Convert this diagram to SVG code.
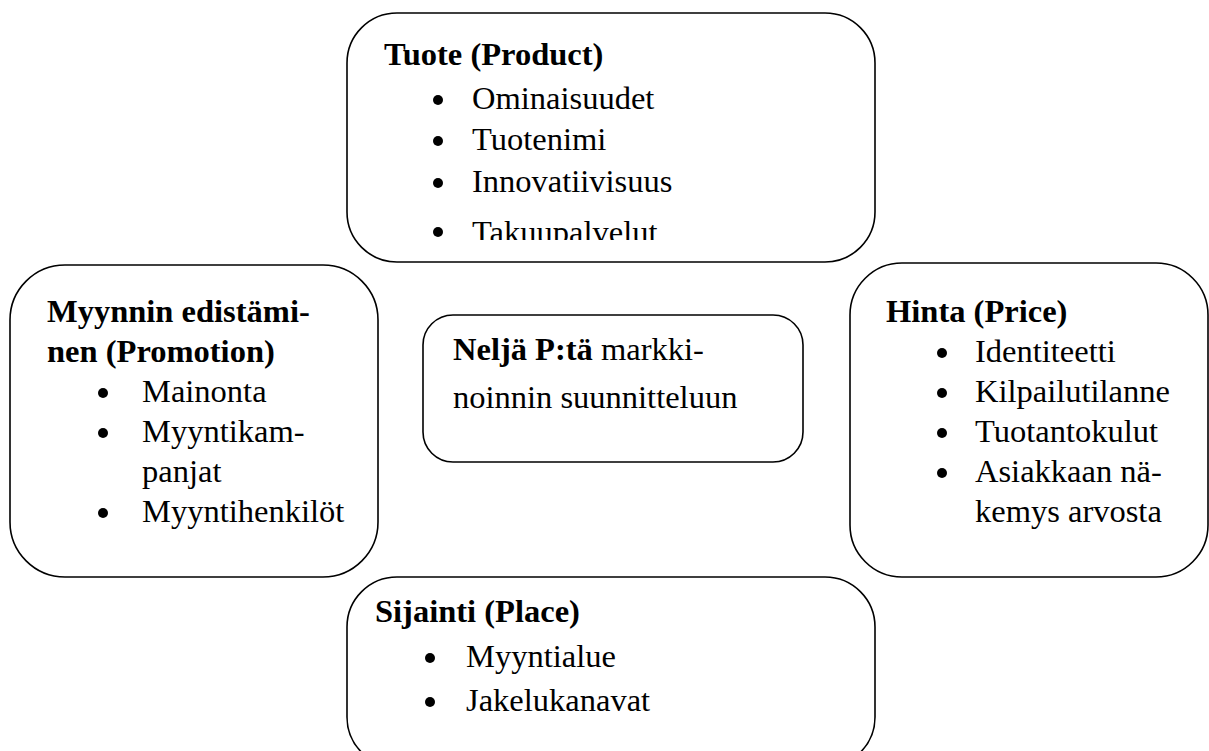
<svg xmlns="http://www.w3.org/2000/svg" width="1209" height="751" viewBox="0 0 1209 751">
<style>
.box{fill:#fff;stroke:#000;stroke-width:1.6}
.t{font-family:"Liberation Serif",serif;font-size:32.5px;fill:#000}
.b{font-weight:bold}
.dot{fill:#000}
</style>
<defs>
<clipPath id="clipTop"><rect x="347" y="13" width="528" height="227"/></clipPath>
</defs>
<rect width="1209" height="751" fill="#fff"/>
<g id="connectors"></g>
<g id="product">
<rect class="box" x="347" y="13" width="528" height="249" rx="50" ry="50"/>
<g clip-path="url(#clipTop)">
<text class="t b" x="384" y="65">Tuote (Product)</text>
<circle class="dot" cx="438" cy="100" r="5"/><text class="t" x="472" y="109">Ominaisuudet</text>
<circle class="dot" cx="438" cy="141" r="5"/><text class="t" x="472" y="150">Tuotenimi</text>
<circle class="dot" cx="438" cy="183" r="5"/><text class="t" x="472" y="192">Innovatiivisuus</text>
<circle class="dot" cx="438" cy="232" r="5"/><text class="t" x="472" y="243">Takuupalvelut</text>
</g>
</g>
<g id="promotion">
<rect class="box" x="10" y="265" width="368" height="312" rx="55" ry="55"/>
<text class="t b" x="47" y="322">Myynnin edistämi-</text>
<text class="t b" x="47" y="362">nen (Promotion)</text>
<circle class="dot" cx="103" cy="393" r="5"/><text class="t" x="142" y="402">Mainonta</text>
<circle class="dot" cx="103" cy="433" r="5"/><text class="t" x="142" y="442">Myyntikam-</text>
<text class="t" x="142" y="482">panjat</text>
<circle class="dot" cx="103" cy="513" r="5"/><text class="t" x="142" y="522">Myyntihenkilöt</text>
</g>
<g id="center">
<rect class="box" x="423" y="315" width="380" height="147" rx="30" ry="30"/>
<text class="t" x="453" y="360"><tspan class="b">Neljä P:tä</tspan> markki-</text>
<text class="t" x="453" y="408">noinnin suunnitteluun</text>
</g>
<g id="price">
<rect class="box" x="850" y="263" width="358" height="314" rx="52" ry="52"/>
<text class="t b" x="886" y="322">Hinta (Price)</text>
<circle class="dot" cx="942" cy="353" r="5"/><text class="t" x="975" y="362">Identiteetti</text>
<circle class="dot" cx="942" cy="393" r="5"/><text class="t" x="975" y="402">Kilpailutilanne</text>
<circle class="dot" cx="942" cy="433" r="5"/><text class="t" x="975" y="442">Tuotantokulut</text>
<circle class="dot" cx="942" cy="473" r="5"/><text class="t" x="975" y="482">Asiakkaan nä-</text>
<text class="t" x="975" y="522">kemys arvosta</text>
</g>
<g id="place">
<rect class="box" x="347" y="577" width="528" height="190" rx="50" ry="50"/>
<text class="t b" x="375" y="622">Sijainti (Place)</text>
<circle class="dot" cx="430" cy="658" r="5"/><text class="t" x="466" y="667">Myyntialue</text>
<circle class="dot" cx="430" cy="702" r="5"/><text class="t" x="466" y="711">Jakelukanavat</text>
</g>
</svg>
